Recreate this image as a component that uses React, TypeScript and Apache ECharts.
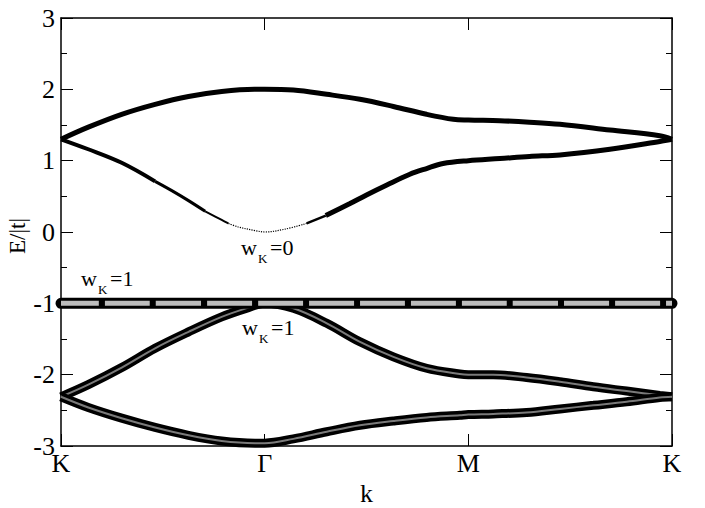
import React, { useEffect, useRef } from "react";
import * as echarts from "echarts";

// high-symmetry path labels (k index 0..3)
const kLabels = ["K", "Γ", "M", "K"];

// band energies E/|t| read along the path, [k, E]
const bandTop: number[][] = [
  [0, 1.3], [0.134, 1.47], [0.298, 1.65], [0.462, 1.79], [0.626, 1.9], [0.789, 1.97],
  [0.95, 2.0], [1, 2.0], [1.141, 1.99], [1.305, 1.93], [1.468, 1.86], [1.632, 1.76],
  [1.795, 1.65], [1.926, 1.58], [2, 1.57], [2.155, 1.56], [2.3, 1.54], [2.45, 1.51],
  [2.695, 1.43], [2.94, 1.35], [3, 1.3],
];
const bandUpper2: number[][] = [
  [0, 1.3], [0.134, 1.16], [0.298, 0.97], [0.462, 0.71], [0.544, 0.58], [0.626, 0.44],
  [0.708, 0.29], [0.789, 0.17], [0.822, 0.12], [0.871, 0.07], [0.953, 0.02], [1, 0.0],
  [1.1, 0.04], [1.206, 0.12], [1.3, 0.23], [1.419, 0.4], [1.5, 0.52], [1.6, 0.66],
  [1.713, 0.81], [1.795, 0.89], [1.876, 0.96], [2, 1.0], [2.155, 1.03], [2.3, 1.06],
  [2.45, 1.08], [2.695, 1.16], [2.94, 1.27], [3, 1.3],
];
const bandLower1: number[][] = [
  [0, -2.31], [0.134, -2.14], [0.298, -1.9], [0.462, -1.63], [0.626, -1.4], [0.789, -1.19],
  [0.92, -1.06], [1, -1.0], [1.141, -1.07], [1.305, -1.28], [1.468, -1.54], [1.632, -1.75],
  [1.795, -1.91], [1.958, -1.99], [2, -2.0], [2.122, -2.0], [2.286, -2.04], [2.45, -2.1],
  [2.614, -2.17], [2.777, -2.23], [2.94, -2.29], [3, -2.31],
];
const bandLower2: number[][] = [
  [0, -2.31], [0.134, -2.46], [0.298, -2.61], [0.462, -2.74], [0.626, -2.85], [0.789, -2.93],
  [0.953, -2.96], [1, -2.96], [1.141, -2.9], [1.305, -2.8], [1.468, -2.71], [1.632, -2.65],
  [1.795, -2.6], [1.958, -2.57], [2, -2.56], [2.122, -2.55], [2.286, -2.53], [2.45, -2.48],
  [2.614, -2.43], [2.777, -2.38], [2.94, -2.32], [3, -2.31],
];
const bandFlat: number[][] = [[0, -1], [1, -1], [2, -1], [3, -1]];

const SERIF = "'Liberation Serif', 'Times New Roman', serif";

function seg(data: number[][], a: number, b: number) {
  return data.filter((p) => p[0] >= a - 1e-9 && p[0] <= b + 1e-9);
}

function line(data: number[][], width: number, color = "#000", extra: any = {}) {
  return {
    type: "line",
    data,
    showSymbol: false,
    smooth: 0.35,
    clip: false,
    silent: true,
    lineStyle: { width, color, ...extra },
  };
}

// subscript label "w_K=v" positioned by baseline
function wLabel(x: number, base: number, value: string) {
  const c = (fs: number, b: number) => b - 0.3375 * fs;
  return [
    { type: "text", x, y: c(22, base), style: { text: "w", font: `22px ${SERIF}`, fill: "#000", verticalAlign: "middle" } },
    { type: "text", x: x + 17, y: c(13, base + 8), style: { text: "K", font: `13px ${SERIF}`, fill: "#000", verticalAlign: "middle" } },
    { type: "text", x: x + 29, y: c(22, base), style: { text: "=" + value, font: `22px ${SERIF}`, fill: "#000", verticalAlign: "middle" } },
  ];
}

export default function App() {
  const ref = useRef<HTMLDivElement>(null);
  useEffect(() => {
    if (!ref.current) return;
    document.body.style.margin = "0";
    const chart = echarts.init(ref.current, null, { renderer: "svg" });
    const axisLine = { show: true, onZero: false, lineStyle: { color: "#000", width: 1.5 } };
    const tick = { show: true, inside: true, length: 12, lineStyle: { color: "#000", width: 1 } };
    const minor = { show: true, splitNumber: 2, length: 6, lineStyle: { color: "#000", width: 1 } };
    const option: any = {
      animation: false,
      backgroundColor: "#fff",
      grid: { left: 61, right: 33, top: 18, bottom: 62, containLabel: false, outerBoundsMode: "none" },
      xAxis: [
        {
          type: "value", min: 0, max: 3, interval: 1, position: "bottom",
          axisLine, splitLine: { show: false }, axisTick: tick,
          axisLabel: {
            fontFamily: SERIF, fontSize: 26, color: "#000", margin: 4,
            formatter: (v: number) => kLabels[Math.round(v)] ?? "",
          },
          name: "k", nameLocation: "middle", nameGap: 28,
          nameTextStyle: { fontFamily: SERIF, fontSize: 26, color: "#000" },
        },
        {
          type: "value", min: 0, max: 3, interval: 1, position: "top",
          axisLine, splitLine: { show: false }, axisTick: tick,
          axisLabel: { show: false },
        },
      ],
      yAxis: [
        {
          type: "value", min: -3, max: 3, interval: 1, position: "left",
          axisLine, splitLine: { show: false }, axisTick: tick, minorTick: minor,
          axisLabel: { fontFamily: SERIF, fontSize: 26, color: "#000", margin: 6 },
        },
        {
          type: "value", min: -3, max: 3, interval: 1, position: "right",
          axisLine, splitLine: { show: false }, axisTick: tick, minorTick: minor,
          axisLabel: { show: false },
        },
      ],
      series: [
        line(bandTop, 5),
        line(seg(bandUpper2, 0, 0.462), 4),
        line(seg(bandUpper2, 0.462, 0.708), 3),
        line(seg(bandUpper2, 0.708, 0.822), 2),
        line(seg(bandUpper2, 0.822, 1.206), 1.2, "#000", { type: "dotted" }),
        line(seg(bandUpper2, 1.206, 1.3), 2.5),
        line(seg(bandUpper2, 1.3, 3), 5),
        line(bandLower1, 9),
        line(bandLower1, 2, "#7a7a7a"),
        line(bandLower2, 9),
        line(bandLower2, 2, "#7a7a7a"),
        line(bandFlat, 11, "#000", { cap: "round" }),
        line(bandFlat, 5, "#bdbdbd", { type: [45, 6], dashOffset: 7 }),
      ],
      graphic: [
        {
          type: "text", x: 17, y: 236, rotation: Math.PI / 2,
          style: { text: "E/|t|", font: `23px ${SERIF}`, fill: "#000", align: "center", verticalAlign: "middle" },
        },
        ...wLabel(241, 255, "0"),
        ...wLabel(81, 286, "1"),
        ...wLabel(242, 335, "1"),
      ],
    };
    chart.setOption(option);
    return () => chart.dispose();
  }, []);
  return <div ref={ref} style={{ width: 705, height: 508 }} />;
}
